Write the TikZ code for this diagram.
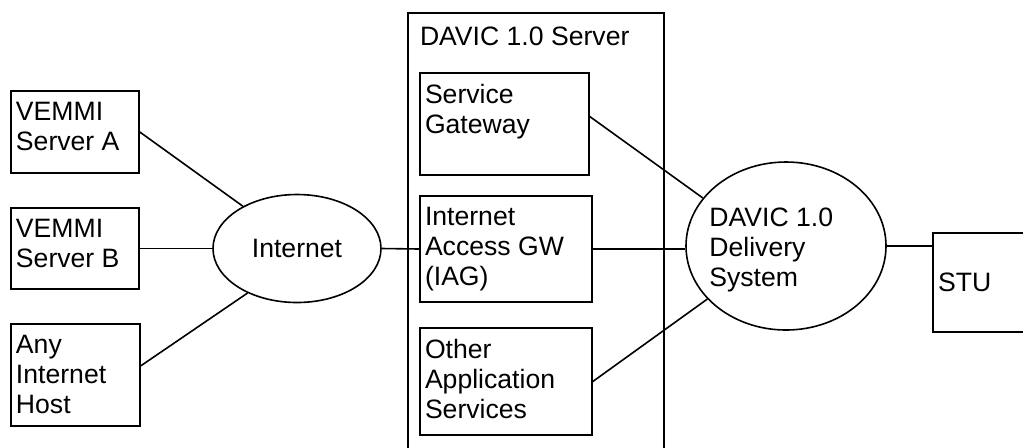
\documentclass[tikz,border=0pt]{standalone}
\usepackage{fontspec}
\setmainfont{Liberation Sans}
\usetikzlibrary{shapes.geometric}

\newcommand{\boxtxt}[3]{\parbox[t][#2][t]{#1}{\raggedright #3}}

\tikzstyle{boite} = [rectangle, draw, line width=0.8pt, inner xsep=2.5pt, inner ysep=5.5pt, font=\fontsize{13.3}{15}\selectfont]
\tikzstyle{cadre} = [rectangle, draw, line width=0.8pt, inner xsep=6pt, inner ysep=7pt, font=\fontsize{13.3}{15}\selectfont]
\tikzstyle{terminal} = [boite, text width=58.5pt, align=left, minimum height=49.5pt]
\tikzstyle{nuage} = [ellipse, draw, line width=0.8pt, inner sep=0pt, font=\fontsize{13.3}{15}\selectfont]
\tikzstyle{legende} = [inner sep=0pt, align=left, font=\fontsize{13.3}{15}\selectfont]
\tikzstyle{lien} = [line width=0.8pt]

\begin{document}
\begin{tikzpicture}[x=0.5pt, y=-0.5pt]

    \useasboundingbox (0,0) rectangle (1023,447);

    %  internet side
    \node[boite] (vemmiA) at (75,132) {\boxtxt{59pt}{30pt}{VEMMI\\Server A}};
    \node[boite] (vemmiB) at (75,248.5) {\boxtxt{59pt}{29.5pt}{VEMMI\\Server B}};
    \node[boite] (host) at (75.5,375) {\boxtxt{59.5pt}{40pt}{Any\\Internet\\Host}};

    \node[nuage, minimum width=84pt, minimum height=54pt] (internet) at (297,248.5) {Internet};

   %-------------------------------------------------------------
    \node[cadre] (server) at (536,246.5) {\boxtxt{116pt}{219.5pt}{DAVIC 1.0 Server}};
    \node[boite] (sg) at (504.5,124) {\boxtxt{79.5pt}{40pt}{Service\\Gateway}};
    \node[boite] (iag) at (506,249) {\boxtxt{81pt}{42pt}{Internet\\Access GW\\(IAG)}};
    \node[boite] (other) at (506,381.5) {\boxtxt{81pt}{42.5pt}{Other\\Application\\Services}};

   %-------------------------------------------------------------
    \node[nuage, minimum width=100pt, minimum height=84pt] (delivery) at (786,246) {};
    \node[legende, anchor=north west] (deliverytxt) at (709,208) {DAVIC 1.0\\Delivery\\System};

    \node[terminal] (stu) at (996.5,282.5) {STU};

   %-------------------------------------------------------------
    \draw[lien] (vemmiA.east) -- (internet.142);
    \draw[lien] (vemmiB.east) -- (internet.west);
    \draw[lien] (host.8) -- (internet.222);
    \draw[lien] (internet.east) -- (iag.west);

    \draw[lien] (sg.5) -- (delivery.150.5);
    \draw[lien] (iag.east) -- (iag.east -| delivery.west);
    \draw[lien] (other.east) -- (delivery.214.4);
    \draw[lien] (delivery.east) -- (delivery.east -| stu.west);

  \end{tikzpicture}
\end{document}
